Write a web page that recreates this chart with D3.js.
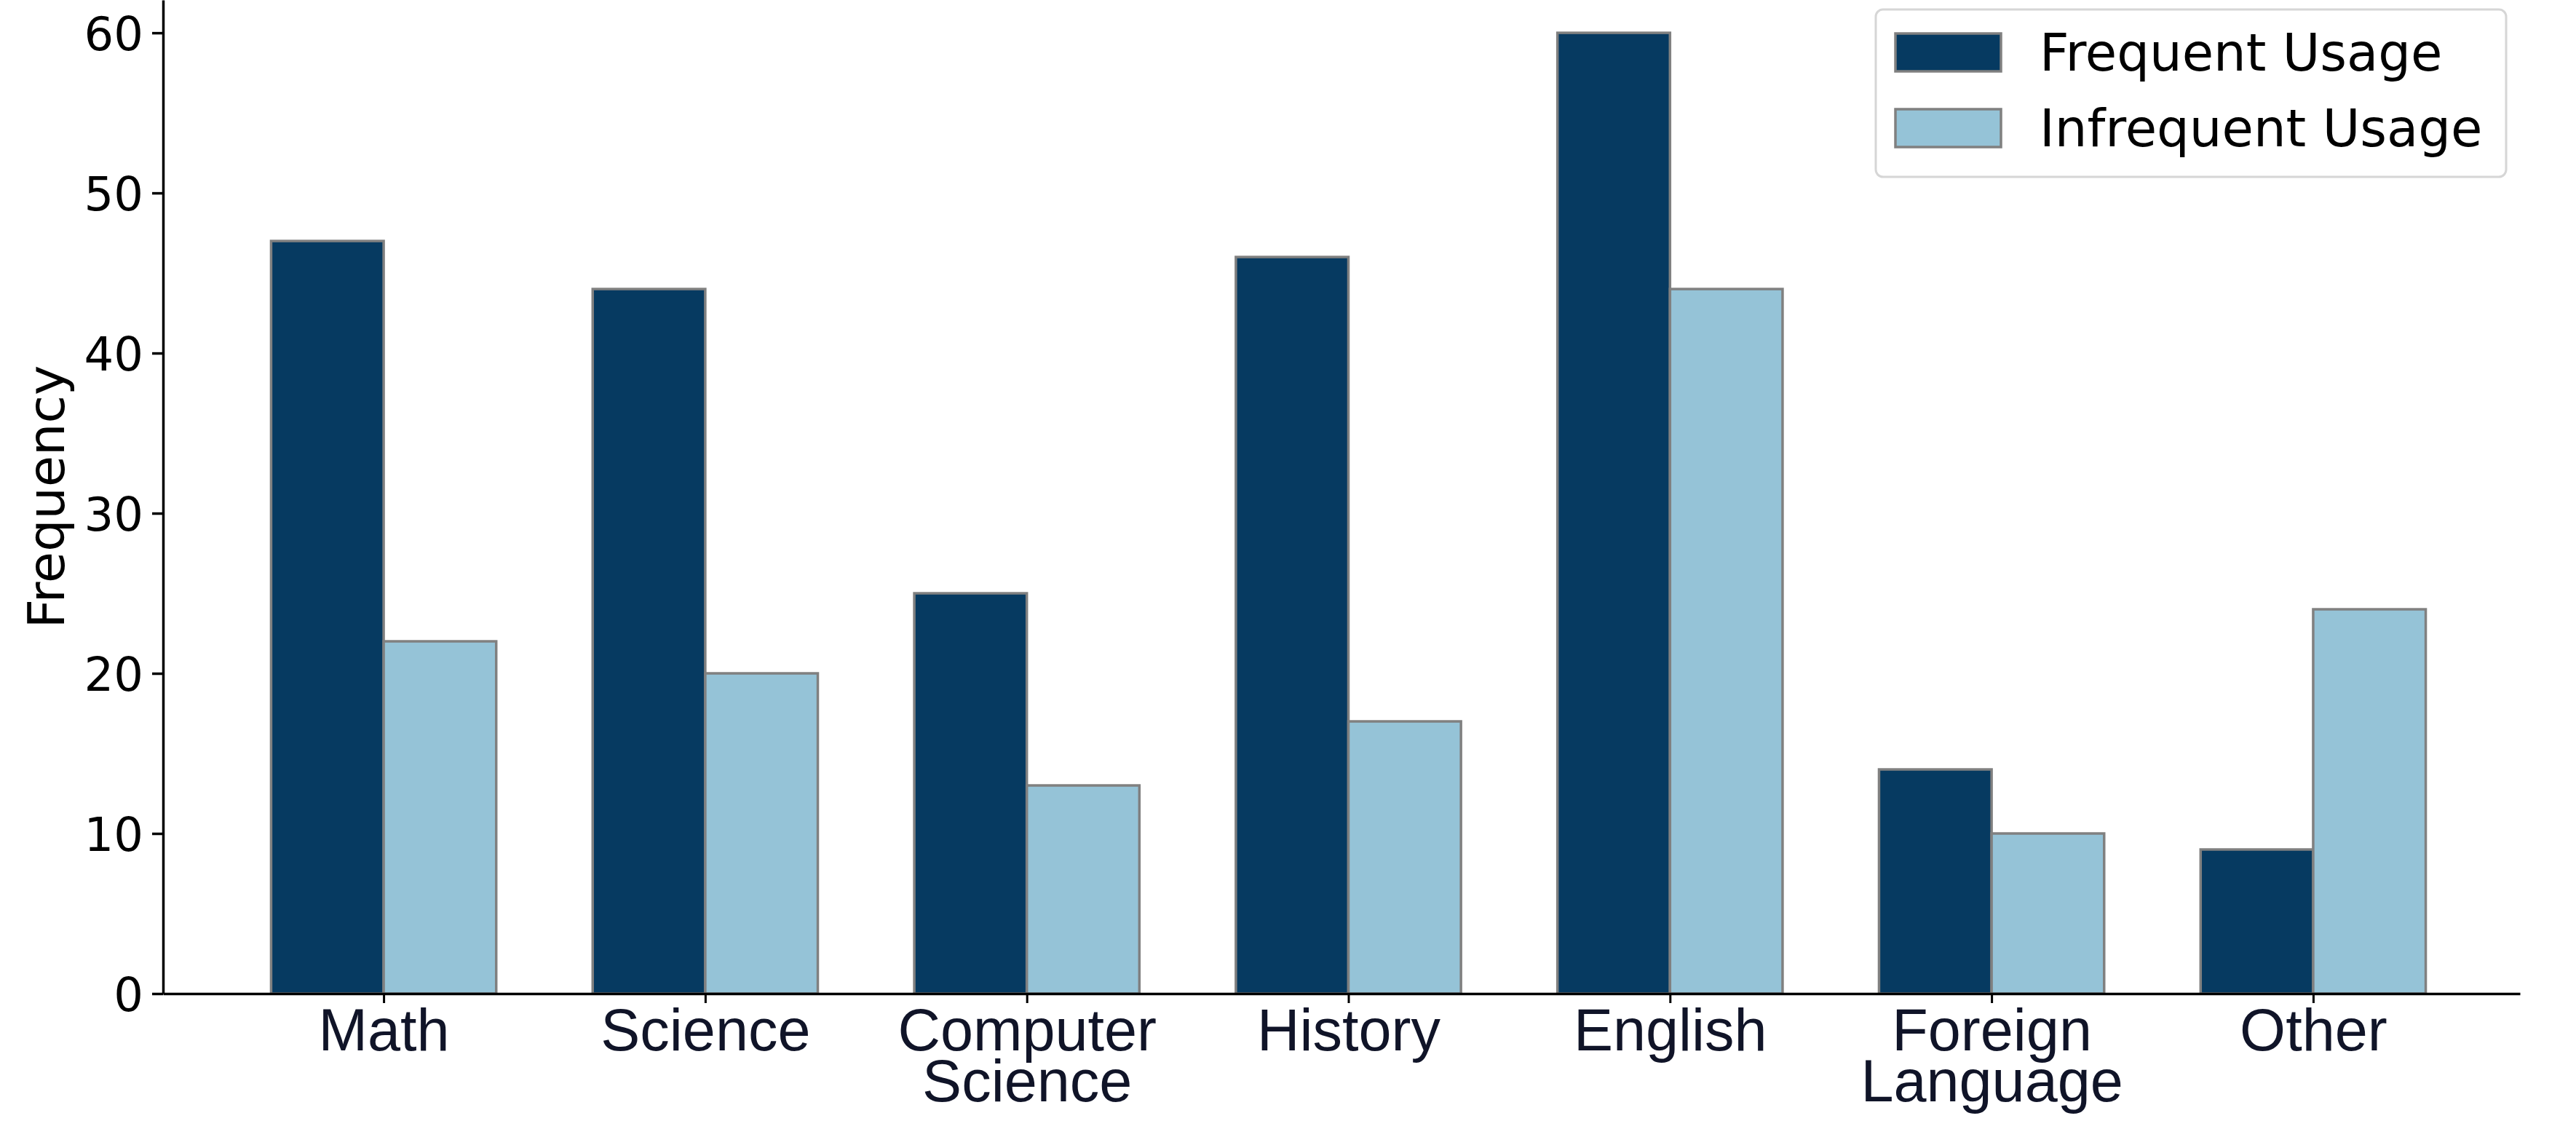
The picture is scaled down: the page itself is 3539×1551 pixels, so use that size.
<!DOCTYPE html>
<html>
<head>
<meta charset="utf-8">
<script src="https://cdn.jsdelivr.net/npm/d3@7"></script>
<style>
  html, body { margin: 0; padding: 0; background: #ffffff; }
  svg { display: block; }
</style>
</head>
<body>
<svg id="chart" width="3539" height="1551"></svg>
<script>
// ---- data ----
const categories = [["Math"], ["Science"], ["Computer", "Science"], ["History"], ["English"], ["Foreign", "Language"], ["Other"]];
const frequentUsage = [47, 44, 25, 46, 60, 14, 9];
const infrequentUsage = [22, 20, 13, 17, 44, 10, 24];
const yTicks = [0, 10, 20, 30, 40, 50, 60];
const seriesNames = ["Frequent Usage", "Infrequent Usage"];
const seriesColors = ["#063a61", "#95c3d7"];

(function () {
  // ---- layout ----
  const plotLeft = 224, plotRight = 3462, plotTop = 0, plotBottom = 1365;
  const barW = 0.35;

  const svg = d3.select("#chart");

  const x = d3.scaleLinear().domain([-0.686, 6.643]).range([plotLeft, plotRight]);
  const y = d3.scaleLinear().domain([0, 62.05]).range([plotBottom, plotTop]);

  const series = [frequentUsage, infrequentUsage];

  // bars
  series.forEach((vals, s) => {
    svg.append("g").selectAll("rect")
      .data(vals)
      .join("rect")
      .attr("x", (d, i) => s === 0 ? x(i - barW) : x(i))
      .attr("width", (d, i) => s === 0 ? x(i) - x(i - barW) : x(i + barW) - x(i))
      .attr("y", d => y(d))
      .attr("height", d => y(0) - y(d))
      .attr("fill", seriesColors[s])
      .attr("stroke", "#808080")
      .attr("stroke-width", 3.5);
  });

  // y axis
  const yAxis = svg.append("g")
    .attr("transform", `translate(${plotLeft},0)`)
    .call(d3.axisLeft(y).tickValues(yTicks).tickSize(15).tickSizeOuter(0).tickPadding(12).tickFormat(d3.format("d")));
  yAxis.select(".domain").attr("stroke", "#000").attr("stroke-width", 3.5);
  yAxis.selectAll(".tick line").attr("stroke", "#000").attr("stroke-width", 3.5);
  yAxis.selectAll(".tick text")
    .attr("font-family", "'DejaVu Sans', sans-serif")
    .attr("font-size", 64)
    .attr("fill", "#000")
    .attr("dy", "0.37em");

  // x axis
  const xAxis = svg.append("g")
    .attr("transform", `translate(0,${plotBottom})`)
    .call(d3.axisBottom(x).tickValues(d3.range(categories.length)).tickSize(13).tickSizeOuter(0).tickFormat(""));
  xAxis.select(".domain").attr("stroke", "#000").attr("stroke-width", 3.5);
  xAxis.selectAll(".tick line").attr("stroke", "#000").attr("stroke-width", 3);
  xAxis.selectAll(".tick").each(function (d) {
    const t = d3.select(this).select("text");
    t.text(null)
      .attr("y", 0)
      .attr("dy", null)
      .attr("font-family", "'Liberation Sans', Arial, sans-serif")
      .attr("font-size", 81)
      .attr("fill", "#101428")
      .attr("text-anchor", "middle");
    categories[d].forEach((line, k) => {
      t.append("tspan").attr("x", 0).attr("y", 78 + k * 70).text(line);
    });
  });

  // y label
  svg.append("text")
    .attr("transform", `translate(88,${(plotTop + plotBottom) / 2}) rotate(-90)`)
    .attr("text-anchor", "middle")
    .attr("font-family", "'DejaVu Sans', sans-serif")
    .attr("font-size", 70)
    .attr("fill", "#000")
    .text("Frequency");

  // legend
  const lg = svg.append("g");
  lg.append("rect")
    .attr("x", 2577).attr("y", 13)
    .attr("width", 3443 - 2577).attr("height", 243 - 13)
    .attr("rx", 10).attr("ry", 10)
    .attr("fill", "#ffffff").attr("fill-opacity", 0.8)
    .attr("stroke", "#d6d6d6").attr("stroke-width", 3);
  seriesNames.forEach((name, i) => {
    const rowTop = 46 + i * 104;
    lg.append("rect")
      .attr("x", 2604).attr("y", rowTop)
      .attr("width", 145).attr("height", 52)
      .attr("fill", seriesColors[i])
      .attr("stroke", "#808080").attr("stroke-width", 3.5);
    lg.append("text")
      .attr("x", 2802).attr("y", rowTop + 51)
      .attr("font-family", "'DejaVu Sans', sans-serif")
      .attr("font-size", 70.5)
      .attr("fill", "#000")
      .text(name);
  });
})();
</script>
</body>
</html>
